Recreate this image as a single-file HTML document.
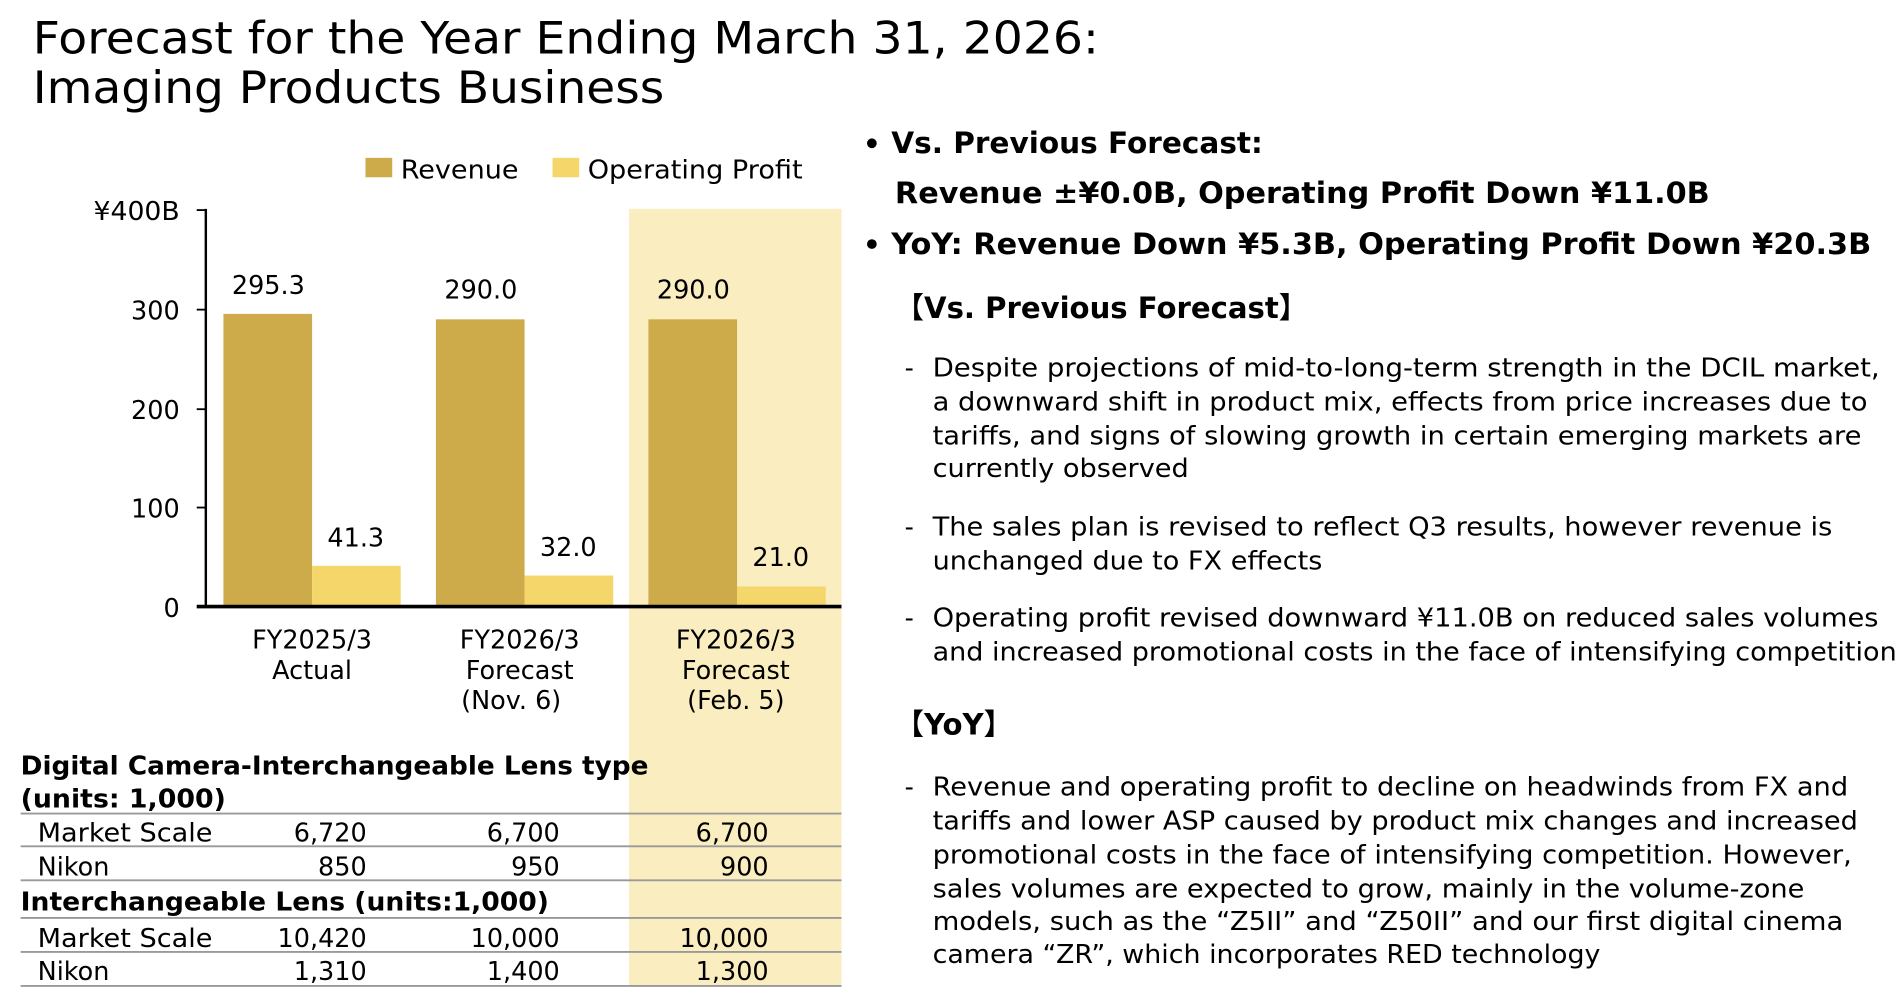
<!DOCTYPE html>
<html><head><meta charset="utf-8">
<style>
html,body{margin:0;padding:0;background:#fff;}
svg{display:block;}
text{font-family:"DejaVu Sans","Liberation Sans","Noto Sans CJK JP",sans-serif;fill:#000;}
.b{font-weight:bold;}
.cjk{font-family:"Noto Sans CJK JP","DejaVu Sans",sans-serif;}
</style></head>
<body>
<svg width="1904" height="1006" viewBox="0 0 1568 828.5" preserveAspectRatio="none" xmlns="http://www.w3.org/2000/svg">
<text x="27" y="44" font-size="37" textLength="878" lengthAdjust="spacingAndGlyphs">Forecast for the Year Ending March 31, 2026:</text>
<text x="27" y="85" font-size="37" textLength="520" lengthAdjust="spacingAndGlyphs">Imaging Products Business</text>

<rect x="518" y="172" width="175" height="640" fill="#FAEDC0"/>

<rect x="301" y="130" width="22" height="16" fill="#CDAA4A"/>
<text x="330" y="147" font-size="21" textLength="97" lengthAdjust="spacingAndGlyphs">Revenue</text>
<rect x="455" y="130" width="22" height="16" fill="#F4D66B"/>
<text x="484" y="147" font-size="21" textLength="177" lengthAdjust="spacingAndGlyphs">Operating Profit</text>

<line x1="169.5" y1="172" x2="169.5" y2="500" stroke="#000" stroke-width="2"/>
<g stroke="#000" stroke-width="1.5">
<line x1="162" y1="173" x2="170" y2="173"/>
<line x1="162" y1="255" x2="170" y2="255"/>
<line x1="162" y1="337" x2="170" y2="337"/>
<line x1="162" y1="418" x2="170" y2="418"/>
</g>
<g font-size="21" text-anchor="end">
<text x="148" y="181" textLength="71" lengthAdjust="spacingAndGlyphs">¥400B</text>
<text x="148" y="263">300</text>
<text x="148" y="345">200</text>
<text x="148" y="426">100</text>
<text x="148" y="508">0</text>
</g>

<rect x="184" y="258.5" width="73" height="241.5" fill="#CDAA4A"/>
<rect x="257" y="466" width="73" height="34" fill="#F4D66B"/>
<rect x="359" y="263" width="73" height="237" fill="#CDAA4A"/>
<rect x="432" y="474" width="73" height="26" fill="#F4D66B"/>
<rect x="534" y="263" width="73" height="237" fill="#CDAA4A"/>
<rect x="607" y="483" width="73" height="17" fill="#F4D66B"/>
<line x1="162" y1="499.5" x2="693" y2="499.5" stroke="#000" stroke-width="3"/>

<g font-size="21" text-anchor="middle">
<text x="221" y="242">295.3</text>
<text x="396" y="246">290.0</text>
<text x="571" y="246">290.0</text>
<text x="293" y="450">41.3</text>
<text x="468" y="458">32.0</text>
<text x="643" y="466">21.0</text>
<text x="257" y="534">FY2025/3</text>
<text x="257" y="559">Actual</text>
<text x="428" y="534">FY2026/3</text>
<text x="428" y="559">Forecast</text>
<text x="421" y="584">(Nov. 6)</text>
<text x="606" y="534">FY2026/3</text>
<text x="606" y="559">Forecast</text>
<text x="606" y="584">(Feb. 5)</text>
</g>

<text class="b" x="17" y="638" font-size="21" textLength="517" lengthAdjust="spacingAndGlyphs">Digital Camera-Interchangeable Lens type</text>
<text class="b" x="17" y="665" font-size="21" textLength="169" lengthAdjust="spacingAndGlyphs">(units: 1,000)</text>
<g stroke="#999" stroke-width="1.5">
<line x1="17" y1="670" x2="693" y2="670"/>
<line x1="17" y1="697" x2="693" y2="697"/>
<line x1="17" y1="725" x2="693" y2="725"/>
<line x1="17" y1="756" x2="693" y2="756"/>
<line x1="17" y1="784" x2="693" y2="784"/>
<line x1="17" y1="812" x2="693" y2="812"/>
</g>
<g font-size="21">
<text x="31" y="693" textLength="144" lengthAdjust="spacingAndGlyphs">Market Scale</text>
<text x="31" y="721">Nikon</text>
<text x="31" y="780" textLength="144" lengthAdjust="spacingAndGlyphs">Market Scale</text>
<text x="31" y="807">Nikon</text>
</g>
<text class="b" x="17" y="750" font-size="21" textLength="435" lengthAdjust="spacingAndGlyphs">Interchangeable Lens (units:1,000)</text>
<g font-size="21" text-anchor="end">
<text x="302" y="693">6,720</text><text x="461" y="693">6,700</text><text x="633" y="693">6,700</text>
<text x="302" y="721">850</text><text x="461" y="721">950</text><text x="633" y="721">900</text>
<text x="302" y="780">10,420</text><text x="461" y="780">10,000</text><text x="633" y="780">10,000</text>
<text x="302" y="807">1,310</text><text x="461" y="807">1,400</text><text x="633" y="807">1,300</text>
</g>

<circle cx="718" cy="118" r="4" fill="#000"/>
<text class="b" x="734" y="126" font-size="24" textLength="306" lengthAdjust="spacingAndGlyphs">Vs. Previous Forecast:</text>
<text class="b" x="737" y="167" font-size="24" textLength="671" lengthAdjust="spacingAndGlyphs">Revenue ±¥0.0B, Operating Profit Down ¥11.0B</text>
<circle cx="718" cy="201" r="4" fill="#000"/>
<text class="b" x="734" y="209" font-size="24" textLength="807" lengthAdjust="spacingAndGlyphs">YoY: Revenue Down ¥5.3B, Operating Profit Down ¥20.3B</text>
<text class="b" x="737" y="262" font-size="24"><tspan class="cjk">【</tspan><tspan>Vs. Previous Forecast</tspan><tspan class="cjk">】</tspan></text>

<g font-size="21">
<text x="745" y="310">-</text>
<text x="768" y="310" textLength="780" lengthAdjust="spacingAndGlyphs">Despite projections of mid-to-long-term strength in the DCIL market,</text>
<text x="768" y="338" textLength="770" lengthAdjust="spacingAndGlyphs">a downward shift in product mix, effects from price increases due to</text>
<text x="768" y="366" textLength="765" lengthAdjust="spacingAndGlyphs">tariffs, and signs of slowing growth in certain emerging markets are</text>
<text x="768" y="393" textLength="211" lengthAdjust="spacingAndGlyphs">currently observed</text>
<text x="745" y="441">-</text>
<text x="768" y="441" textLength="741" lengthAdjust="spacingAndGlyphs">The sales plan is revised to reflect Q3 results, however revenue is</text>
<text x="768" y="469" textLength="321" lengthAdjust="spacingAndGlyphs">unchanged due to FX effects</text>
<text x="745" y="516">-</text>
<text x="768" y="516" textLength="779" lengthAdjust="spacingAndGlyphs">Operating profit revised downward ¥11.0B on reduced sales volumes</text>
<text x="768" y="544" textLength="794" lengthAdjust="spacingAndGlyphs">and increased promotional costs in the face of intensifying competition</text>
</g>
<text class="b" x="737" y="605" font-size="24"><tspan class="cjk">【</tspan><tspan>YoY</tspan><tspan class="cjk">】</tspan></text>
<g font-size="21">
<text x="745" y="655">-</text>
<text x="768" y="655" textLength="754" lengthAdjust="spacingAndGlyphs">Revenue and operating profit to decline on headwinds from FX and</text>
<text x="768" y="683" textLength="762" lengthAdjust="spacingAndGlyphs">tariffs and lower ASP caused by product mix changes and increased</text>
<text x="768" y="711" textLength="757" lengthAdjust="spacingAndGlyphs">promotional costs in the face of intensifying competition. However,</text>
<text x="768" y="739" textLength="718" lengthAdjust="spacingAndGlyphs">sales volumes are expected to grow, mainly in the volume-zone</text>
<text x="768" y="766" textLength="750" lengthAdjust="spacingAndGlyphs">models, such as the “Z5II” and “Z50II” and our first digital cinema</text>
<text x="768" y="793" textLength="550" lengthAdjust="spacingAndGlyphs">camera “ZR”, which incorporates RED technology</text>
</g>
</svg>
</body></html>
